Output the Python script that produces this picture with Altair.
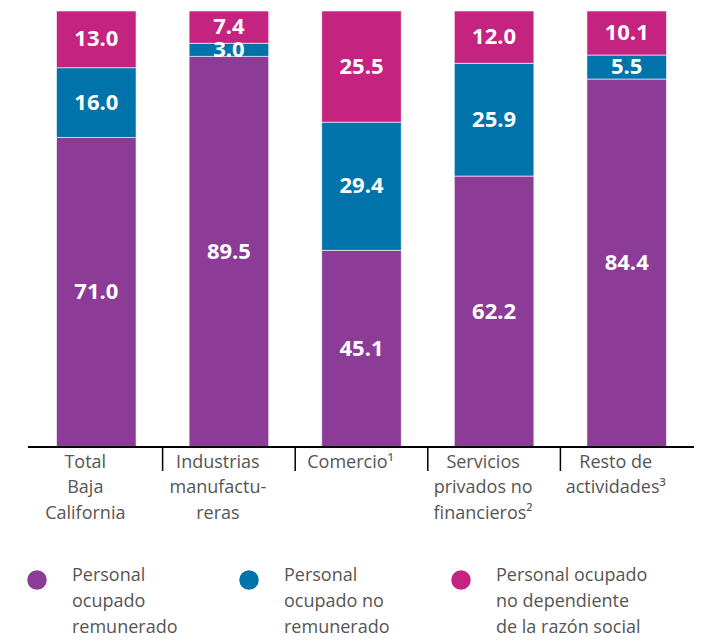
import altair as alt
import pandas as pd

categories = ["Total\nBaja\nCalifornia", "Industrias\nmanufactu-\nreras", "Comercio¹",
              "Servicios\nprivados no\nfinancieros²", "Resto de\nactividades³"]
series = ["Personal\nocupado\nremunerado", "Personal\nocupado no\nremunerado",
          "Personal ocupado\nno dependiente\nde la razón social"]
remunerado = [71.0, 89.5, 45.1, 62.2, 84.4]
no_remunerado = [16.0, 3.0, 29.4, 25.9, 5.5]
no_dependiente = [13.0, 7.4, 25.5, 12.0, 10.1]
colors = ["#8C3B96", "#0073AA", "#C4237F"]

rows = []
for i, c in enumerate(categories):
    for k, vals in enumerate([remunerado, no_remunerado, no_dependiente]):
        rows.append({"cat": c, "serie": series[k], "orden": k, "valor": vals[i]})
df = pd.DataFrame(rows)
sep_df = pd.DataFrame({"cat": categories[1:]})
leg_df = pd.DataFrame({"serie": series})

FONT = "Open Sans"
GRAY = "#555555"
W, H = 663, 436

xaxis = alt.Axis(title=None, domain=False, ticks=False, labelAngle=0,
                 labelExpr="split(datum.label, '\\n')", labelFontSize=18,
                 labelFont=FONT, labelColor=GRAY, labelLineHeight=25.5,
                 labelPadding=6, labelOffset=-11, labelAlign="center")
xscale = alt.Scale(paddingInner=0, paddingOuter=0)
yaxis = alt.Axis(title=None, labels=False, ticks=False, domain=False, grid=False,
                 minExtent=22, maxExtent=22)
yscale = alt.Scale(domain=[0, 1])
cscale = alt.Scale(domain=series, range=colors)

base = alt.Chart(df).transform_stack(
    stack="valor", groupby=["cat"], as_=["v0", "v1"], offset="normalize",
    sort=[alt.SortField("orden", order="ascending")]
).transform_calculate(mid="(datum.v0 + datum.v1) / 2")

bars = base.mark_bar(width=alt.RelativeBandSize(0.6), stroke="white", strokeWidth=0.6).encode(
    x=alt.X("cat:N", sort=categories, axis=xaxis, scale=xscale),
    y=alt.Y("v0:Q", scale=yscale, axis=yaxis),
    y2="v1:Q",
    color=alt.Color("serie:N", scale=cscale, legend=None),
)
labels = base.mark_text(color="white", fontSize=22, fontWeight="bold", font=FONT,
                        baseline="middle").encode(
    x=alt.X("cat:N", sort=categories, axis=xaxis, scale=xscale),
    y=alt.Y("mid:Q", scale=yscale, axis=yaxis),
    text=alt.Text("valor:Q", format=".1f"),
)
seps = alt.Chart(sep_df).mark_rule(color="black", strokeWidth=1.5).encode(
    x=alt.X("cat:N", sort=categories, axis=xaxis, scale=xscale, bandPosition=0),
    y=alt.value(H), y2=alt.value(H + 24),
)
domain = alt.Chart(sep_df).mark_rule(color="black", strokeWidth=1.5).encode(
    x=alt.value(-2), x2=alt.value(664), y=alt.value(H),
)
main = alt.layer(bars, labels, seps, domain).properties(width=W, height=H)

legx = alt.X("serie:N", sort=series, axis=None,
             scale=alt.Scale(type="point", padding=0.033))
leg_pts = alt.Chart(leg_df).mark_circle(size=380, opacity=1).encode(
    x=legx, y=alt.value(15),
    color=alt.Color("serie:N", scale=cscale, legend=None),
)
leg_txt = alt.Chart(leg_df).mark_text(align="left", dx=35, baseline="alphabetic",
                                      lineBreak="\n", fontSize=18, lineHeight=26,
                                      font=FONT, color=GRAY).encode(
    x=legx, y=alt.value(16), text="serie:N",
)
legend = alt.layer(leg_pts, leg_txt).properties(width=438, height=40)

chart = alt.vconcat(main, legend, spacing=43).properties(
    padding={"left": 0, "top": 2, "right": 0, "bottom": 0}
).configure_view(stroke=None)

chart.save("out.html", embed_options={"renderer": "svg", "actions": False})
